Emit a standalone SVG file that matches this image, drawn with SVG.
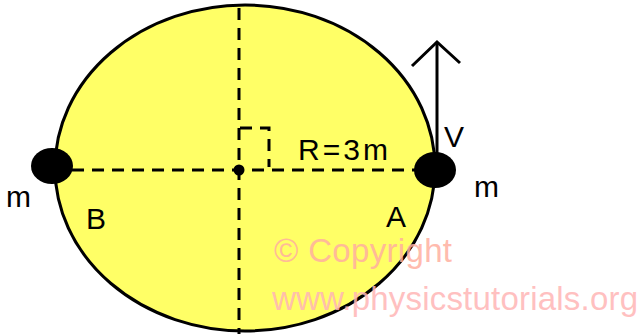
<svg xmlns="http://www.w3.org/2000/svg" width="643" height="334" viewBox="0 0 643 334">
<style>
.dash{stroke:#000;stroke-width:3;stroke-dasharray:12 8;fill:none}
.lbl{font-family:"Liberation Sans","DejaVu Sans",sans-serif;font-size:30px;fill:#000}
.wm{font-family:"Liberation Sans","DejaVu Sans",sans-serif;font-size:33px}
</style>
<rect width="643" height="334" fill="#fff"/>
<g id="body">
<ellipse cx="245" cy="168" rx="190" ry="163" fill="#ffff66" stroke="#000" stroke-width="3"/>
</g>
<g id="connectors">
<line class="dash" x1="239" y1="8" x2="239" y2="334"/>
<line class="dash" x1="72" y1="170" x2="415" y2="170"/>
<path class="dash" d="M240 128 H269 V167" stroke-dasharray="9 7"/>
<line x1="437" y1="170" x2="437" y2="42" stroke="#000" stroke-width="3"/>
<polyline points="412,66 437,42 460,63" fill="none" stroke="#000" stroke-width="3"/>
</g>
<g id="center"><circle cx="239" cy="170" r="5.5" fill="#000"/></g>
<g id="massB"><ellipse cx="52" cy="166" rx="21" ry="18" fill="#000"/><text class="lbl" x="6" y="207">m</text><text class="lbl" x="86" y="229">B</text></g>
<g id="massA"><ellipse cx="435" cy="170" rx="21" ry="18" fill="#000"/><text class="lbl" x="474" y="197">m</text><text class="lbl" x="386" y="227">A</text></g>
<g id="labels">
<text class="lbl" x="298" y="160" textLength="90">R=3m</text>
<text class="lbl" x="444" y="147" font-size="32">V</text>
</g>
<g id="watermark">
<text class="wm" x="274" y="262" fill="#ffb0a0" opacity="0.85" textLength="178">© Copyright</text>
<text class="wm" x="272" y="310" fill="#ffb6b6" opacity="0.85" textLength="366">www.physicstutorials.org</text>
</g>
</svg>
